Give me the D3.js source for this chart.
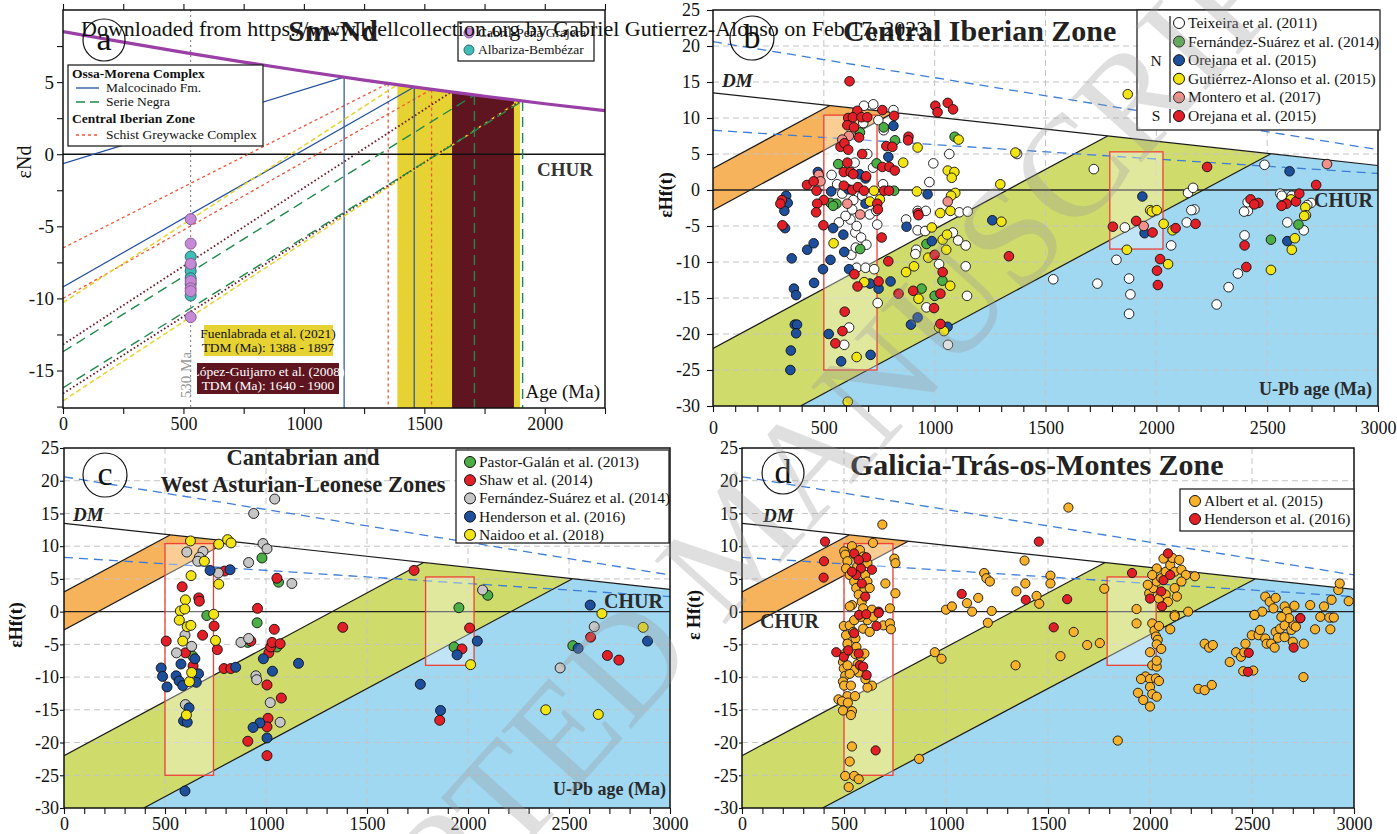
<!DOCTYPE html>
<html lang="en">
<head>
<meta charset="utf-8">
<title>Sm-Nd and Lu-Hf isotope plots</title>
<script src="https://cdn.jsdelivr.net/npm/d3@7"></script>
<style>
  body { margin: 0; background: #fff; }
  svg { display: block; }
</style>
</head>
<body>
<script>
var serif = "'Liberation Serif', 'DejaVu Serif', serif";

// ---------- panel a data (Sm-Nd) ----------
// DM curve
var dmNdAge = [0, 250, 500, 750, 1000, 1250, 1500, 1750, 2000, 2250];
var dmNdEps = [8.5, 7.77, 7.06, 6.39, 5.75, 5.14, 4.56, 4.02, 3.5, 3.02];
// model age lines: eNd at 0 Ma and TDM where they meet DM
var ndLines = [
  {grp: "red", e0: -6.5, tdm: 1350, vert: true},
  {grp: "red", e0: -10.0, tdm: 1530, vert: true},
  {grp: "blue", e0: -0.65, tdm: 1167, vert: true},
  {grp: "blue", e0: -9.2, tdm: 1458, vert: true},
  {grp: "yellow", e0: -10.3, tdm: 1388, vert: false},
  {grp: "yellow", e0: -17.1, tdm: 1897, vert: false},
  {grp: "brown", e0: -13.2, tdm: 1612, vert: false},
  {grp: "brown", e0: -16.6, tdm: 1900, vert: false},
  {grp: "green", e0: -13.7, tdm: 1708, vert: true},
  {grp: "green", e0: -16.2, tdm: 1908, vert: true}
];
var sampleAge = 530;
var cabrilEps = [-4.5, -6.2, -7.6, -8.8, -9.3, -9.5, -11.3];
var albarizaEps = [-7.1, -7.7, -8.1, -8.6, -9.0, -9.8];
var fuenlabradaTdm = [1388, 1897];
var lopezTdm = [1615, 1872];

// ---------- shared Hf reference lines ----------
var hfDM = [[0, 13.5], [3000, 3.4]];
var hfDashHigh = [[0, 20.6], [3000, 5.6]];
var hfDashLow = [[0, 8.3], [3000, 2.3]];
var orangeBand = [[0, 3.0], [525, 11.7], [815, 10.75], [0, -2.8]];
var greenBand = [[0, -22], [1780, 7.5], [2515, 5.0], [395, -30], [0, -30]];
var blueField = [[395, -30], [2515, 5.0], [3000, 3.4], [3000, -30]];
var redBoxes = [[500, 740, -25, 10.4], [1790, 2030, -8.2, 5.3]];

// ---------- panel b data ----------
var teixeira = [[681,11.7],[723,11.9],[814,11.1],[746,9.7],[678,9.3],[770,8.3],[696,5.0],[1066,5.0],[1372,5.0],[639,3.8],[994,3.7],[535,2.1],[722,3.1],[767,0.8],[976,1.1],[1718,2.9],[560,0.8],[673,-0.8],[583,-0.5],[633,-1.4],[628,-2.7],[923,-2.9],[960,-2.9],[1111,-3.1],[1149,-3.0],[2488,3.5],[2143,-0.4],[2166,0.3],[2413,-2.9],[2172,-2.7],[2559,-0.5],[2698,-1.8],[2611,-0.8],[2566,-0.8],[568,-4.5],[620,-4.1],[642,-5.9],[624,-9.0],[648,-10.8],[688,-10.8],[727,-11.0],[743,-15.7],[614,-19.1],[592,-21.5],[741,-4.8],[871,-4.1],[923,-5.6],[917,-8.3],[957,-5.7],[1020,-10.3],[963,-16.3],[1060,-21.5],[913,-8.9],[1146,-14.7],[1140,-10.6],[1106,-7.0],[1140,-7.7],[1082,-5.9],[1535,-12.4],[1734,-13.0],[1820,-9.7],[1858,-5.2],[1877,-12.3],[1883,-14.5],[1877,-17.2],[2067,-7.7],[2137,-4.5],[2158,-2.8],[2396,-3.0],[2398,-6.3],[2368,-11.6],[2326,-13.5],[2272,-15.9],[2412,-1.7],[2591,-4.5],[2665,-5.6],[2681,-2.1],[598,-3.6],[648,-5.0],[668,-6.6],[692,-7.6],[644,-8.0],[707,-3.4],[737,-2.9]];
var fernandezB = [[770,8.7],[663,8.0],[1090,7.4],[821,6.9],[738,3.7],[565,3.6],[817,-0.1],[530,-1.8],[557,-1.9],[542,-2.2],[664,-8.2],[963,-7.5],[1000,-14.7],[941,-13.7],[2641,-4.8],[2517,-6.9],[1035,-12.6]];
var orejanaN = [[814,8.9],[791,4.6],[473,2.5],[661,2.2],[688,1.6],[533,-0.2],[610,0.1],[968,-0.6],[330,-0.8],[337,-1.8],[322,-2.9],[688,-1.9],[1937,-0.9],[2601,2.6],[325,-5.3],[355,-9.5],[425,-8.3],[454,-7.4],[496,-11.0],[456,-12.9],[365,-13.7],[375,-14.6],[369,-18.7],[379,-18.7],[375,-19.9],[351,-22.3],[349,-25.0],[542,-5.3],[530,-9.7],[588,-6.2],[592,-8.6],[614,-11.0],[708,-13.0],[747,-13.7],[522,-20.0],[578,-23.8],[711,-22.9],[873,-5.1],[987,-7.1],[1058,-19.0],[801,-12.7],[893,-18.7],[923,-17.7],[1260,-4.2],[1947,-6.0],[2591,-7.1]];
var gutierrez = [[1108,7.0],[923,5.9],[1364,5.2],[858,3.8],[1059,2.7],[1089,2.5],[1077,1.7],[1296,0.8],[726,-0.1],[920,-0.2],[1093,-0.4],[1074,-0.8],[708,-1.6],[753,-1.3],[1025,-3.2],[1071,-2.9],[1972,-2.8],[2607,-1.3],[2672,-2.4],[2675,-3.5],[1980,-3.0],[2002,-2.8],[544,-7.4],[682,-12.8],[648,-23.2],[608,-29.4],[987,-5.2],[1036,-6.9],[1052,-8.3],[1020,-19.1],[1042,-19.6],[927,-15.1],[871,-11.4],[907,-10.6],[971,-9.4],[1070,-13.3],[1056,-6.2],[1301,-4.4],[1867,-8.3],[2033,-4.7],[2073,-5.6],[2053,-10.3],[2625,-6.7],[2611,-8.3],[2517,-11.1],[2667,-3.6],[1871,13.3]];
var montero = [[613,7.5],[583,7.0],[477,2.1],[485,1.2],[606,-1.9],[1059,-1.6],[664,-3.4],[1943,-5.0],[2770,3.6]];
var orejanaS = [[616,15.1],[651,11.0],[764,11.1],[817,10.3],[610,10.0],[631,10.1],[670,10.1],[696,10.1],[606,9.0],[636,8.7],[659,7.3],[882,7.4],[880,6.9],[1003,11.7],[1013,10.8],[1059,12.1],[1083,11.2],[782,6.1],[809,6.0],[575,6.0],[593,6.5],[610,5.6],[673,5.0],[606,3.8],[764,3.2],[796,3.2],[820,2.7],[590,2.5],[621,2.5],[633,2.2],[691,1.9],[424,0.7],[454,1.2],[467,-0.1],[590,0.6],[628,0.0],[654,0.4],[681,-0.1],[772,-0.1],[794,-0.1],[311,-1.4],[304,-1.9],[500,-1.4],[470,-1.9],[465,-3.1],[741,-1.9],[744,-2.7],[925,-3.2],[2229,3.2],[2721,0.7],[2425,-1.3],[2460,-1.8],[2630,-1.6],[2645,-0.5],[2587,-1.9],[313,-4.9],[498,-4.9],[638,-11.7],[652,-13.4],[747,-12.7],[594,-16.9],[584,-19.6],[552,-21.3],[761,-6.6],[927,-3.5],[1000,-9.0],[1036,-11.4],[1026,-14.4],[997,-16.4],[1026,-18.6],[837,-14.4],[903,-14.0],[791,-9.9],[1335,-9.2],[1804,-5.1],[1909,-4.3],[1983,-5.9],[2017,-9.6],[2003,-11.2],[2007,-13.2],[2087,-5.3],[2177,-4.7],[2398,-7.7],[2406,-10.7],[2442,-2.0],[2565,-2.2]];

// ---------- panel c data ----------
var pastorGalan = [[980,8.2],[1062,4.5],[2098,2.5],[1955,0.6],[707,-0.6],[956,-1.7],[637,-6.8],[910,-4.7],[1054,-5.4],[1931,-5.4],[2519,-5.2]];
var shaw = [[795,6.2],[1054,5.1],[585,3.8],[667,2.1],[670,1.6],[958,0.5],[1733,6.3],[506,-4.5],[686,-3.6],[743,-2.2],[1380,-2.4],[759,-5.8],[601,-6.3],[639,-8.3],[925,-4.5],[792,-8.7],[826,-8.7],[1005,-11.2],[1014,-6.3],[1023,-5.4],[1030,-4.7],[1070,-4.9],[1041,-2.7],[1076,-13.2],[1010,-16.3],[1005,-17.6],[910,-19.8],[1005,-22.0],[2008,-2.5],[1970,-5.7],[1860,-16.6],[2607,-3.9],[2690,-6.7],[2747,-7.4]];
var fernandezC = [[608,9.1],[688,9.2],[670,8.3],[662,7.7],[764,5.9],[939,15.0],[1043,17.2],[985,10.4],[1005,9.6],[914,7.5],[1128,4.3],[2072,3.3],[599,-3.6],[632,-5.3],[557,-6.3],[601,-14.2],[876,-4.7],[914,-4.1],[950,-9.8],[954,-10.4],[1021,-13.9],[1070,-16.9],[2456,-8.6],[2625,-2.3]];
var hendersonC = [[723,6.3],[822,6.4],[648,-7.2],[481,-8.6],[488,-9.9],[510,-11.5],[555,-9.8],[570,-10.6],[588,-11.3],[579,-8.0],[666,-9.5],[655,-10.8],[619,-14.7],[592,-16.7],[610,-16.9],[599,-27.4],[850,-8.5],[987,-7.2],[1161,-7.9],[1032,-9.1],[970,-17.0],[936,-17.7],[1005,-19.3],[2046,-4.5],[1946,-6.6],[1764,-11.1],[1864,-15.1],[2545,-5.6],[2889,-4.5],[2605,1.0]];
var naidoo = [[626,10.8],[695,7.7],[766,10.3],[810,11.0],[827,10.5],[629,5.5],[766,4.2],[601,1.8],[576,0.1],[598,0.4],[741,-0.4],[571,-1.3],[610,-2.3],[628,-2.1],[750,-4.4],[588,-4.5],[621,-10.7],[632,-9.3],[606,-15.8],[2013,-8.1],[2385,-15.0],[2663,-0.3],[2645,-15.7],[2867,-2.4]];

// ---------- panel d data ----------
var albert = [[688,13.3],[642,10.5],[747,8.1],[752,7.4],[703,4.3],[752,2.8],[725,0.5],[501,9.2],[506,8.7],[517,7.7],[510,6.6],[528,5.6],[539,10.0],[556,8.7],[550,4.6],[560,3.6],[572,2.6],[587,1.5],[594,0.5],[539,1.0],[528,0.8],[604,5.6],[615,4.6],[600,3.6],[565,6.9],[578,9.4],[594,8.4],[615,7.4],[626,3.6],[637,0.3],
  [1000,0.3],[1029,0.8],[1103,1.3],[1158,2.1],[1128,0],[1224,0.1],[1187,5.9],[1198,5.1],[1215,4.6],[1345,3.1],[1389,4.3],[1385,7.8],[1444,2.4],[1457,1.2],[1512,5.5],[1512,4.3],[1600,15.9],[1776,3.5],[1934,0.4],
  [1996,2.8],[2016,3.6],[2033,4.6],[2055,5.1],[2077,6.1],[2099,7.1],[2110,8.2],[2143,7.9],[2066,8.1],[2121,6.1],[2154,6.4],[2176,5.6],[2220,5.4],[2044,2.0],[2077,2.6],[2121,3.6],[2154,4.6],[2088,1.5],[2132,2.3],[2033,6.6],[2011,5.6],[1989,4.1],[2187,0],[2121,-0.5],
  [2565,2.3],[2587,1.5],[2616,2.1],[2660,0.8],[2671,0],[2605,0.5],[2512,-0.5],[2550,0],[2785,1.0],[2853,0.8],[2890,1.8],[2923,3.3],[2930,4.3],[2974,1.6],[2708,0.9],[2890,-0.9],[2835,-0.8],
  [499,-2.2],[510,-3.6],[517,-4.9],[506,-6.4],[495,-7.7],[499,-8.7],[506,-9.8],[495,-10.7],[501,-11.3],[534,-11.3],[517,-12.9],[554,-12.9],[473,-13.4],[490,-13.7],[495,-15.1],[519,-13.9],[539,-15.2],[534,-15.8],[539,-20.6],[528,-22.9],[506,-25.1],[550,-25.1],[572,-25.6],[523,-26.8],[528,-2.1],[550,-1.3],[545,-3.1],[556,-4.1],[561,-5.4],[556,-6.5],[567,-8.0],[583,-6.9],[600,-6.4],[572,-9.3],[550,-8.9],[528,-9.5],[517,-8.2],[594,-2.6],[615,-1.3],[583,-0.8],[626,-3.1],[644,-0.8],[693,-2.1],[725,-1.8],[730,-2.7],[637,-11.3],[615,-11.6],[605,-10.3],
  [945,-6.2],[978,-7.2],[868,-22.5],[1205,-1.7],[1341,-8.2],[1561,-6.8],[1626,-3.1],[1692,-5.1],[1754,-4.8],[1842,-19.7],
  [1934,-1.8],[2011,-1.8],[2022,-2.9],[2029,-3.8],[2038,-4.3],[2033,-5.0],[2055,-5.7],[2000,-6.2],[2011,-8.2],[2033,-8.4],[2033,-7.5],[1978,-9.9],[2000,-10.3],[1956,-10.3],[2029,-10.2],[2044,-10.6],[2000,-11.5],[1941,-12.4],[2011,-12.6],[2033,-13.0],[1967,-13.5],[2000,-14.5],[2044,-2.2],[2099,-2.7],[2121,-0.7],
  [2237,-11.8],[2268,-12.0],[2303,-11.2],[2268,-4.9],[2290,-5.5],[2308,-5.1],[2391,-7.7],[2422,-6.2],[2446,-6.9],[2462,-6.2],[2468,-4.9],[2457,-9.1],[2506,-9.0],[2499,-3.6],[2532,-3.6],[2539,-2.8],[2565,-4.1],[2572,-4.9],[2594,-4.9],[2616,-3.1],[2638,-2.6],[2660,-2.1],[2627,-4.0],[2611,-5.5],[2660,-3.9],[2693,-2.8],[2704,-2.1],[2715,-2.3],[2682,-1.0],[2644,-0.8],[2700,-4.6],[2754,-4.9],[2752,-10.0],[2809,-2.7],[2879,-0.9],[2901,-0.9],[2884,-2.7],[2512,-0.5]];
var hendersonD = [[407,10.7],[402,7.7],[400,5.2],[670,0],[609,8.3],[550,8.9],[572,7.9],[583,6.6],[560,5.6],[587,4.3],[539,6.1],[604,2.3],[637,6.4],[574,-0.5],[1455,10.7],[1391,1.8],[1077,2.7],[1594,1.9],[1912,5.9],[2088,8.9],[2066,4.8],[2099,5.6],[2055,3.1],[2059,0.8],[2000,2.0],[2736,-1.0],[462,-6.2],[499,-6.9],[521,-5.9],[550,-3.3],[609,-0.4],[572,-6.4],[578,-8.2],[594,-8.4],[611,-9.7],[659,-2.2],[670,-0.2],[655,-21.2],[1528,-2.4],[2484,-6.3],[2480,-9.2],[2704,-5.5],[2737,-1.0]];

var hfTicks = [-30, -25, -20, -15, -10, -5, 0, 5, 10, 15, 20, 25];
var gridAges = [500, 1000, 1500, 2000, 2500];

//Create SVG element
var svg = d3.select("body").append("svg")
  .attr("width", 1397).attr("height", 834)
  .style("font-family", serif);
var defs = svg.append("defs");

function fmt(d) { return d < 0 ? "-" + Math.abs(d) : String(d); }

function styleAxis(sel, size) {
  sel.attr("font-family", serif).attr("font-size", size);
  sel.select(".domain").remove();
  sel.selectAll("text").attr("fill", "#111");
  sel.selectAll("line").attr("stroke", "#111").attr("stroke-width", 1.1);
}

function letterBadge(cx, cy, r, letter, size) {
  svg.append("circle").attr("cx", cx).attr("cy", cy).attr("r", r)
    .attr("fill", "none").attr("stroke", "#111").attr("stroke-width", 1.2);
  svg.append("text").attr("x", cx).attr("y", cy + size * 0.3).attr("text-anchor", "middle")
    .attr("font-size", size).attr("fill", "#111").text(letter);
}

// ================= panel a =================
var ax = d3.scaleLinear().domain([0, 2250]).range([63, 605]);
var ay = d3.scaleLinear().domain([-17.6, 10]).range([408, 10]);
var dmAt = d3.scaleLinear().domain(dmNdAge).range(dmNdEps);

defs.append("clipPath").attr("id", "clipA").append("rect")
  .attr("x", 63).attr("y", 10).attr("width", 542).attr("height", 398);
var ga = svg.append("g").attr("clip-path", "url(#clipA)");

function band(range, color) {
  var ages = [range[0]].concat(dmNdAge.filter(function(a) { return a > range[0] && a < range[1]; }), [range[1]]);
  var area = d3.area().x(function(a) { return ax(a); }).y0(ay(-17.6)).y1(function(a) { return ay(dmAt(a)); });
  ga.append("path").attr("d", area(ages)).attr("fill", color);
}
band(fuenlabradaTdm, "#e6d232");
band(lopezTdm, "#5e1520");

ga.append("line").attr("x1", ax(0)).attr("x2", ax(2250)).attr("y1", ay(0)).attr("y2", ay(0))
  .attr("stroke", "#111").attr("stroke-width", 1.4);

var ndStyle = {
  red: {c: "#f2553c", w: 1.3, dash: "3,3"},
  blue: {c: "#23509e", w: 1.2, dash: null},
  yellow: {c: "#e8d22c", w: 1.5, dash: "5,3"},
  brown: {c: "#6b1b2a", w: 1.8, dash: "1.6,2.4"},
  green: {c: "#1f8a4c", w: 1.4, dash: "10,6"}
};
ndLines.forEach(function(l) {
  var s = ndStyle[l.grp];
  var yEnd = dmAt(l.tdm);
  ga.append("line").attr("x1", ax(0)).attr("y1", ay(l.e0)).attr("x2", ax(l.tdm)).attr("y2", ay(yEnd))
    .attr("stroke", s.c).attr("stroke-width", s.w).attr("stroke-dasharray", s.dash);
  if (l.vert) {
    ga.append("line").attr("x1", ax(l.tdm)).attr("x2", ax(l.tdm)).attr("y1", ay(yEnd)).attr("y2", ay(-17.6))
      .attr("stroke", s.c).attr("stroke-width", s.w).attr("stroke-dasharray", s.dash);
  }
});

var dmCurve = d3.line().x(function(d, i) { return ax(dmNdAge[i]); }).y(function(d) { return ay(d); }).curve(d3.curveMonotoneX);
ga.append("path").attr("d", dmCurve(dmNdEps)).attr("fill", "none").attr("stroke", "#9a3fa6").attr("stroke-width", 3.2);

ga.append("line").attr("x1", ax(sampleAge)).attr("x2", ax(sampleAge)).attr("y1", ay(10)).attr("y2", ay(-17.6))
  .attr("stroke", "#777").attr("stroke-width", 1).attr("stroke-dasharray", "2,3");

ga.selectAll(null).data(albarizaEps).enter().append("circle")
  .attr("cx", ax(sampleAge)).attr("cy", function(d) { return ay(d); }).attr("r", 5.5)
  .attr("fill", "#41bdb6").attr("stroke", "#2b6c74").attr("stroke-width", 1);
ga.selectAll(null).data(cabrilEps).enter().append("circle")
  .attr("cx", ax(sampleAge)).attr("cy", function(d) { return ay(d); }).attr("r", 5.5)
  .attr("fill", "#c48ad4").attr("stroke", "#8e5c9c").attr("stroke-width", 1);

svg.append("g").attr("transform", "translate(0,408)")
  .call(d3.axisBottom(ax).tickValues(d3.range(0, 2251, 250)).tickSize(6).tickPadding(3)
    .tickFormat(function(d) { return d % 500 === 0 ? d : ""; }))
  .call(styleAxis, 18);
svg.append("g").attr("transform", "translate(0,10)")
  .call(d3.axisTop(ax).tickValues(d3.range(0, 2251, 250)).tickSize(6).tickFormat(""))
  .call(styleAxis, 18);
svg.append("g").attr("transform", "translate(63,0)")
  .call(d3.axisLeft(ay).tickValues(d3.range(-17.5, 10, 2.5)).tickSize(6).tickPadding(3)
    .tickFormat(function(d) { return d % 5 === 0 ? fmt(d) : ""; }))
  .call(styleAxis, 19);
svg.append("rect").attr("x", 63).attr("y", 10).attr("width", 542).attr("height", 398)
  .attr("fill", "none").attr("stroke", "#111").attr("stroke-width", 1.5);

svg.append("text").attr("transform", "translate(31,162) rotate(-90)").attr("text-anchor", "middle")
  .attr("font-size", 20).attr("fill", "#111").text("εNd");
svg.append("text").attr("x", 593).attr("y", 176).attr("text-anchor", "end").attr("font-size", 19)
  .attr("font-weight", "bold").attr("fill", "#333").text("CHUR");
svg.append("text").attr("x", 600).attr("y", 398).attr("text-anchor", "end").attr("font-size", 19)
  .attr("fill", "#111").text("Age (Ma)");
svg.append("text").attr("transform", "translate(191,375) rotate(-90)").attr("text-anchor", "middle")
  .attr("font-size", 15).attr("fill", "#9a9a9a").text("530 Ma");
svg.append("text").attr("x", 288).attr("y", 41).attr("font-size", 30).attr("font-weight", "bold")
  .attr("fill", "#222").text("Sm-Nd");
letterBadge(104, 40, 21, "a", 34);

// TDM boxes
svg.append("rect").attr("x", 204).attr("y", 325).attr("width", 129).attr("height", 31).attr("fill", "#e6d232");
svg.append("text").attr("x", 268).attr("y", 338).attr("text-anchor", "middle").attr("font-size", 13.5).attr("fill", "#111").text("Fuenlabrada et al. (2021)");
svg.append("text").attr("x", 268).attr("y", 352).attr("text-anchor", "middle").attr("font-size", 13.5).attr("fill", "#111").text("TDM (Ma): 1388 - 1897");
svg.append("rect").attr("x", 197).attr("y", 363).attr("width", 142).attr("height", 31).attr("fill", "#5e1520");
svg.append("text").attr("x", 268).attr("y", 376).attr("text-anchor", "middle").attr("font-size", 13.5).attr("fill", "#fff").text("López-Guijarro et al. (2008)");
svg.append("text").attr("x", 268).attr("y", 390).attr("text-anchor", "middle").attr("font-size", 13.5).attr("fill", "#fff").text("TDM (Ma): 1640 - 1900");

// legend of lines
var la = svg.append("g");
la.append("rect").attr("x", 68).attr("y", 65).attr("width", 195).attr("height", 81)
  .attr("fill", "#fff").attr("stroke", "#222").attr("stroke-width", 1.3);
la.append("text").attr("x", 72).attr("y", 78).attr("font-size", 13.5).attr("font-weight", "bold").attr("fill", "#111").text("Ossa-Morena Complex");
la.append("line").attr("x1", 76).attr("x2", 99).attr("y1", 88).attr("y2", 88).attr("stroke", ndStyle.blue.c).attr("stroke-width", 1.3);
la.append("text").attr("x", 106).attr("y", 92).attr("font-size", 13.5).attr("fill", "#111").text("Malcocinado Fm.");
la.append("line").attr("x1", 76).attr("x2", 99).attr("y1", 102).attr("y2", 102).attr("stroke", ndStyle.green.c).attr("stroke-width", 1.4).attr("stroke-dasharray", "9,5");
la.append("text").attr("x", 106).attr("y", 106).attr("font-size", 13.5).attr("fill", "#111").text("Serie Negra");
la.append("text").attr("x", 72).attr("y", 123).attr("font-size", 13.5).attr("font-weight", "bold").attr("fill", "#111").text("Central Iberian Zone");
la.append("line").attr("x1", 76).attr("x2", 99).attr("y1", 135).attr("y2", 135).attr("stroke", ndStyle.red.c).attr("stroke-width", 1.3).attr("stroke-dasharray", "3,3");
la.append("text").attr("x", 106).attr("y", 139).attr("font-size", 13.5).attr("fill", "#111").text("Schist Greywacke Complex");

var lb = svg.append("g");
lb.append("rect").attr("x", 458).attr("y", 22).attr("width", 136).attr("height", 39)
  .attr("fill", "#fff").attr("stroke", "#222").attr("stroke-width", 1.3);
lb.append("circle").attr("cx", 469).attr("cy", 33).attr("r", 5).attr("fill", "#c48ad4").attr("stroke", "#8e5c9c");
lb.append("text").attr("x", 478).attr("y", 37).attr("font-size", 13.5).attr("fill", "#111").text("Cabril-Peña Grajera");
lb.append("circle").attr("cx", 469).attr("cy", 50).attr("r", 5).attr("fill", "#41bdb6").attr("stroke", "#2b6c74");
lb.append("text").attr("x", 478).attr("y", 54).attr("font-size", 13.5).attr("fill", "#111").text("Albariza-Bembézar");

// ================= Hf panels =================
function hfPanel(p) {
  var xs = d3.scaleLinear().domain([0, 3000]).range([p.left, p.right]);
  var ys = d3.scaleLinear().domain([-30, 25]).range([p.bottom, p.top]);
  var line = d3.line().x(function(d) { return xs(d[0]); }).y(function(d) { return ys(d[1]); });

  defs.append("clipPath").attr("id", "clip" + p.id).append("rect")
    .attr("x", p.left).attr("y", p.top).attr("width", p.right - p.left).attr("height", p.bottom - p.top);
  var g = svg.append("g").attr("clip-path", "url(#clip" + p.id + ")");

  g.append("rect").attr("x", p.left).attr("y", p.top).attr("width", p.right - p.left).attr("height", p.bottom - p.top).attr("fill", "#fff");
  g.append("path").attr("d", line(blueField) + "Z").attr("fill", "#a0d8f2");
  g.append("path").attr("d", line(greenBand) + "Z").attr("fill", "#cfdc6b");
  g.append("path").attr("d", line(orangeBand) + "Z").attr("fill", "#f7b25c");

  g.selectAll(null).data(gridAges).enter().append("line")
    .attr("x1", function(d) { return xs(d); }).attr("x2", function(d) { return xs(d); })
    .attr("y1", p.top).attr("y2", p.bottom)
    .attr("stroke", "#c4c4c4").attr("stroke-width", 1).attr("stroke-dasharray", "6,4");
  g.selectAll(null).data(hfTicks.filter(function(v) { return v !== 0 && v > -30 && v < 25; })).enter().append("line")
    .attr("x1", p.left).attr("x2", p.right)
    .attr("y1", function(d) { return ys(d); }).attr("y2", function(d) { return ys(d); })
    .attr("stroke", "#c4c4c4").attr("stroke-width", 1).attr("stroke-dasharray", "6,4");

  var edges = [hfDM, [orangeBand[0], orangeBand[1]], [orangeBand[3], orangeBand[2]],
    [greenBand[0], greenBand[1]], [greenBand[3], greenBand[2]]];
  edges.forEach(function(e) {
    g.append("path").attr("d", line(e)).attr("fill", "none").attr("stroke", "#1a1a1a").attr("stroke-width", 1.2);
  });
  g.append("path").attr("d", line([[0, 0], [3000, 0]])).attr("stroke", "#222").attr("stroke-width", 1.3);
  [hfDashHigh, hfDashLow].forEach(function(e) {
    g.append("path").attr("d", line(e)).attr("fill", "none").attr("stroke", "#3d7dd6")
      .attr("stroke-width", 1.3).attr("stroke-dasharray", "9,6");
  });
  redBoxes.forEach(function(b) {
    g.append("rect").attr("x", xs(b[0])).attr("y", ys(b[3])).attr("width", xs(b[1]) - xs(b[0]))
      .attr("height", ys(b[2]) - ys(b[3]))
      .attr("fill", "rgba(255,255,255,0.35)").attr("stroke", "#ef4136").attr("stroke-width", 1.3);
  });

  p.series.forEach(function(s) {
    g.selectAll(null).data(s.pts).enter().append("circle")
      .attr("cx", function(d) { return xs(d[0]); }).attr("cy", function(d) { return ys(d[1]); })
      .attr("r", p.r).attr("fill", s.color).attr("stroke", "#111").attr("stroke-width", 0.9);
  });

  svg.append("g").attr("transform", "translate(0," + p.bottom + ")")
    .call(d3.axisBottom(xs).tickValues(d3.range(0, 3001, 100)).tickSize(6).tickPadding(p.xPad)
      .tickFormat(function(d) { return d % 500 === 0 ? d : ""; }))
    .call(styleAxis, 18);
  svg.append("g").attr("transform", "translate(" + p.left + ",0)")
    .call(d3.axisLeft(ys).tickValues(hfTicks).tickSize(p.yTick).tickPadding(p.yPad).tickFormat(fmt))
    .call(styleAxis, 18);
  svg.append("rect").attr("x", p.left).attr("y", p.top).attr("width", p.right - p.left).attr("height", p.bottom - p.top)
    .attr("fill", "none").attr("stroke", "#111").attr("stroke-width", 1.5);

  svg.append("text").attr("x", p.dm[0]).attr("y", p.dm[1]).attr("font-size", 19).attr("font-weight", "bold")
    .attr("font-style", "italic").attr("fill", "#222").text("DM");
  svg.append("text").attr("x", p.chur[0]).attr("y", p.chur[1]).attr("text-anchor", p.chur[2])
    .attr("font-size", 20).attr("font-weight", "bold").attr("fill", "#2a2a2a").text("CHUR");
  if (p.upb) {
    svg.append("text").attr("x", p.upb[0]).attr("y", p.upb[1]).attr("text-anchor", "end")
      .attr("font-size", 18).attr("font-weight", "bold").attr("fill", "#2a2a2a").text("U-Pb age (Ma)");
  }
  svg.append("text").attr("transform", "translate(" + p.ylab[0] + "," + p.ylab[1] + ") rotate(-90)")
    .attr("text-anchor", "middle").attr("font-size", 18).attr("font-weight", "bold").attr("fill", "#111").text(p.ylab[2]);

  // legend
  var lg = svg.append("g");
  lg.append("rect").attr("x", p.leg.x).attr("y", p.leg.y).attr("width", p.leg.w).attr("height", p.leg.h)
    .attr("fill", "#fff").attr("stroke", "#222").attr("stroke-width", 1.3);
  p.series.forEach(function(s, i) {
    var cy = p.leg.y0 + i * p.leg.dy;
    lg.append("circle").attr("cx", p.leg.cx).attr("cy", cy).attr("r", 5.5)
      .attr("fill", s.color).attr("stroke", "#111").attr("stroke-width", 1);
    lg.append("text").attr("x", p.leg.cx + 9).attr("y", cy + 5).attr("font-size", 15.5).attr("fill", "#111").text(s.name);
  });
  return lg;
}

var lgB = hfPanel({
  id: "b", left: 713, right: 1378, top: 10, bottom: 406, r: 4.8, xPad: 9, yTick: 6, yPad: 7,
  dm: [722, 87], chur: [1373, 207, "end"], upb: [1372, 395], ylab: [672, 195, "εHf(t)"],
  leg: {x: 1137, y: 10, w: 243, h: 120, cx: 1179, y0: 23, dy: 18.6},
  series: [
    {name: "Teixeira et al. (2011)", color: "#ffffff", pts: teixeira},
    {name: "Fernández-Suárez et al. (2014)", color: "#4caf45", pts: fernandezB},
    {name: "Orejana et al. (2015)", color: "#1d4f9c", pts: orejanaN},
    {name: "Gutiérrez-Alonso et al. (2015)", color: "#f2e513", pts: gutierrez},
    {name: "Montero et al. (2017)", color: "#f4908a", pts: montero},
    {name: "Orejana et al. (2015)", color: "#e21f26", pts: orejanaS}
  ]
});
lgB.append("text").attr("x", 1156).attr("y", 66).attr("text-anchor", "middle").attr("font-size", 15.5).attr("fill", "#111").text("N");
lgB.append("text").attr("x", 1156).attr("y", 121).attr("text-anchor", "middle").attr("font-size", 15.5).attr("fill", "#111").text("S");
lgB.append("line").attr("x1", 1170).attr("x2", 1170).attr("y1", 16).attr("y2", 102).attr("stroke", "#111").attr("stroke-width", 1.2);
lgB.append("line").attr("x1", 1170).attr("x2", 1170).attr("y1", 109).attr("y2", 123).attr("stroke", "#111").attr("stroke-width", 1.2);
svg.append("text").attr("x", 843).attr("y", 41).attr("font-size", 30).attr("font-weight", "bold").attr("fill", "#222").text("Central Iberian Zone");
letterBadge(752, 38, 22, "b", 34);

hfPanel({
  id: "c", left: 64, right: 670, top: 448, bottom: 808, r: 5, xPad: 3, yTick: 4, yPad: 1,
  dm: [73, 521], chur: [663, 608, "end"], upb: [666, 795], ylab: [22, 625, "εHf(t)"],
  leg: {x: 456, y: 450, w: 213, h: 93, cx: 470, y0: 462, dy: 18.2},
  series: [
    {name: "Pastor-Galán et al. (2013)", color: "#4caf45", pts: pastorGalan},
    {name: "Shaw et al. (2014)", color: "#e21f26", pts: shaw},
    {name: "Fernández-Suárez et al. (2014)", color: "#c6c6c6", pts: fernandezC},
    {name: "Henderson et al. (2016)", color: "#1d4f9c", pts: hendersonC},
    {name: "Naidoo et al. (2018)", color: "#f2e513", pts: naidoo}
  ]
});
svg.append("text").attr("x", 303).attr("y", 465).attr("text-anchor", "middle").attr("font-size", 22.5).attr("font-weight", "bold").attr("fill", "#222").text("Cantabrian and");
svg.append("text").attr("x", 303).attr("y", 492).attr("text-anchor", "middle").attr("font-size", 22.5).attr("font-weight", "bold").attr("fill", "#222").text("West Asturian-Leonese Zones");
letterBadge(105, 475, 22, "c", 34);

hfPanel({
  id: "d", left: 742, right: 1354, top: 448, bottom: 808, r: 4.6, xPad: 3, yTick: 3, yPad: 1,
  dm: [763, 522], chur: [760, 628, "start"], upb: null, ylab: [700, 615, "ε Hf(t)"],
  leg: {x: 1180, y: 489, w: 174, h: 42, cx: 1195, y0: 501, dy: 18},
  series: [
    {name: "Albert et al. (2015)", color: "#f7b12a", pts: albert},
    {name: "Henderson et al. (2016)", color: "#e21f26", pts: hendersonD}
  ]
});
svg.append("text").attr("x", 850).attr("y", 475).attr("font-size", 30).attr("font-weight", "bold").attr("fill", "#222").text("Galicia-Trás-os-Montes Zone");
letterBadge(783, 473, 21, "d", 34);

// download stamp and manuscript watermark
svg.append("text").attr("x", 81).attr("y", 36).attr("font-size", 22).attr("fill", "#111")
  .text("Downloaded from https://www.lyellcollection.org by Gabriel Gutierrez-Alonso on Feb 17, 2023");
svg.append("text").attr("transform", "translate(736,539) rotate(-48)").attr("text-anchor", "middle")
  .attr("dominant-baseline", "central").attr("font-size", 145).attr("fill", "#999").attr("opacity", 0.3)
  .style("pointer-events", "none").text("ACCEPTED MANUSCRIPT");
</script>
</body>
</html>
